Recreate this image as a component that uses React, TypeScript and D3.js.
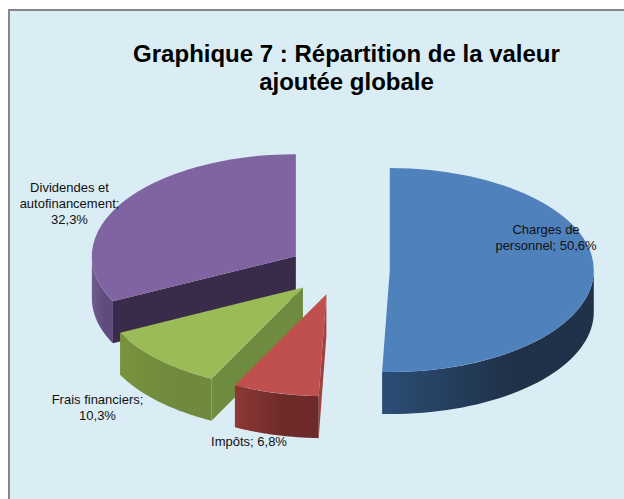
import React from "react";
import * as d3 from "d3";

const categories = ["Charges de personnel", "Impôts", "Frais financiers", "Dividendes et autofinancement"];
const shares = [50.6, 6.8, 10.3, 32.3];
const titleLines = ["Graphique 7 : Répartition de la valeur", "ajoutée globale"];

const width = 624;
const height = 499;
const cx = 339;
const cy = 269.6;
const rx = 204;
const squash = 0.5;
const depth = 42;
const explode = 50.8;

const topColors = ["#4f81bd", "#c0504d", "#9bbb59", "#8064a2"];
const sideFrom = ["#2c4d75", "#8c3836", "#77933c", "#725a92"];
const sideTo = ["#1f3249", "#6d2a28", "#6f8a3e", "#5f4b7c"];
const faceColors = ["#2c4d75", "#a33f3c", "#6f8b3f", "#3b2b4b"];

const pie = d3.pie<number>().sort(null).value((d) => d);
const arcs = pie(shares);
const topArc = d3.arc<d3.PieArcDatum<number>>().innerRadius(0).outerRadius(rx);

// projected point on the tilted circle, angle clockwise from the top
const px = (a: number) => rx * Math.sin(a);
const py = (a: number) => -rx * squash * Math.cos(a);

const sidePath = (a0: number, a1: number) => {
  const from = Math.max(a0, Math.PI / 2);
  const to = Math.min(a1, (3 * Math.PI) / 2);
  if (to <= from) return "";
  const steps = d3.range(0, 41).map((i) => from + ((to - from) * i) / 40);
  const upper = steps.map((a) => [px(a), py(a)] as [number, number]);
  const lower = steps.map((a) => [px(a), py(a) + depth] as [number, number]).reverse();
  return d3.line()([...upper, ...lower]) + "Z";
};

const facePath = (a: number) =>
  d3.line()([
    [0, 0],
    [px(a), py(a)],
    [px(a), py(a) + depth],
    [0, depth],
  ]) + "Z";

// back to front
const drawOrder = [3, 0, 2, 1];

const labels = [
  { i: 0, lines: ["Charges de", "personnel; 50,6%"], x: 546, y: 234 },
  { i: 1, lines: ["Impôts; 6,8%"], x: 249, y: 446 },
  { i: 2, lines: ["Frais financiers;", "10,3%"], x: 97.5, y: 404 },
  { i: 3, lines: ["Dividendes et", "autofinancement;", "32,3%"], x: 69.5, y: 192 },
];

export default function App() {
  return (
    <svg
      width={width}
      height={height}
      style={{ position: "absolute", left: 0, top: 0 }}
      fontFamily="'Liberation Sans', Arial, sans-serif"
    >
      <defs>
        {categories.map((c, i) => (
          <linearGradient key={c} id={`side${i}`} x1="0" x2="1" y1="0" y2="0">
            <stop offset="0" stopColor={sideFrom[i]} />
            <stop offset="0.6" stopColor={sideTo[i]} />
            <stop offset="1" stopColor={sideTo[i]} />
          </linearGradient>
        ))}
      </defs>
      <rect x={0} y={0} width={width} height={height} fill="#fff" />
      <rect x={9} y={10} width={width} height={height} fill="#daedf4" stroke="#868686" strokeWidth={2} />
      <text textAnchor="middle" fontSize={24} fontWeight="bold" fill="#000">
        {titleLines.map((t, i) => (
          <tspan key={t} x={346.5} y={62 + i * 28}>
            {t}
          </tspan>
        ))}
      </text>
      {drawOrder.map((i) => {
        const d = arcs[i];
        const mid = (d.startAngle + d.endAngle) / 2;
        const ox = cx + explode * Math.sin(mid);
        const oy = cy - explode * squash * Math.cos(mid);
        return (
          <g key={categories[i]} transform={`translate(${ox},${oy})`}>
            {i === 0 ? null : <path d={facePath(d.startAngle)} fill={faceColors[i]} />}
            <path d={sidePath(d.startAngle, d.endAngle)} fill={`url(#side${i})`} />
            <g transform={`scale(1,${squash})`}>
              <path d={topArc(d) ?? ""} fill={topColors[i]} />
            </g>
          </g>
        );
      })}
      {labels.map((l) => (
        <text key={l.i} textAnchor="middle" fontSize={13} fill="#111">
          {l.lines.map((t, k) => (
            <tspan key={t} x={l.x} y={l.y + k * 16}>
              {t}
            </tspan>
          ))}
        </text>
      ))}
    </svg>
  );
}
